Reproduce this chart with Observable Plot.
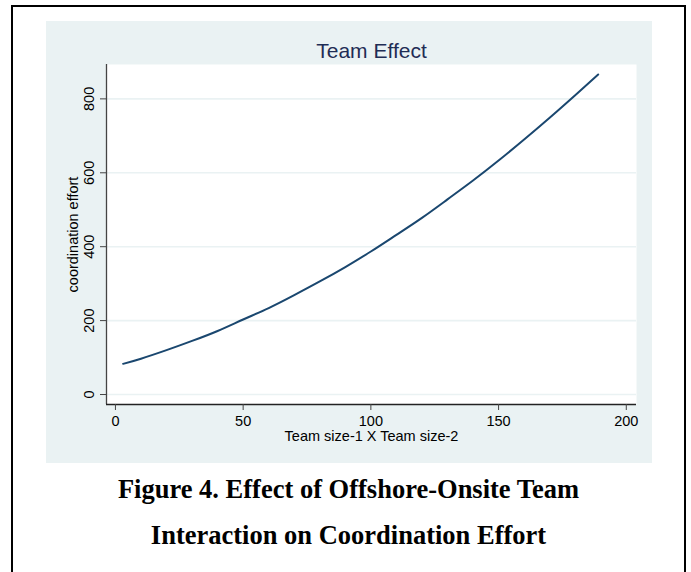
<!DOCTYPE html>
<html>
<head>
<meta charset="utf-8">
<script src="https://cdn.jsdelivr.net/npm/d3@7"></script>
<script src="https://cdn.jsdelivr.net/npm/@observablehq/plot@0.6"></script>
<style>
  html, body { margin: 0; padding: 0; background: #fff; width: 691px; height: 572px; overflow: hidden; }
  #border { position: absolute; left: 11px; top: 5px; width: 671px; height: 620px; border: 2px solid #000; border-bottom: none; }
  #panel { position: absolute; left: 46px; top: 21px; width: 606px; height: 442px; background: #EAF2F3; }
  #caption { position: absolute; left: 13px; top: 466px; width: 671px; text-align: center;
    font-family: "Liberation Serif", "Times New Roman", serif; font-weight: bold; font-size: 26.5px; line-height: 46px; color: #000; }
</style>
</head>
<body>
<div id="border"></div>
<div id="panel"></div>
<div id="caption">Figure 4. Effect of Offshore-Onsite Team<br>Interaction on Coordination Effort</div>
<script>
// Data
const teamProduct = [3, 10, 20, 30, 40, 50, 60, 70, 80, 90, 100, 110, 120, 130, 140, 150, 160, 170, 180, 189];
const coordEffort = [83, 97, 120, 145, 172, 203, 234, 269, 306, 345, 387, 432, 478, 528, 579, 633, 690, 749, 810, 866];
const xTicks = [0, 50, 100, 150, 200];
const yTicks = [0, 200, 400, 600, 800];
const xDomain = [-3.5, 204];
const yDomain = [-27, 893];
const chartTitle = "Team Effect";
const xLabel = "Team size-1 X Team size-2";
const yLabel = "coordination effort";

const data = teamProduct.map((x, i) => ({x, y: coordEffort[i]}));
const font = "'Liberation Sans', Arial, Helvetica, sans-serif";

const chart = Plot.plot({
  width: 606,
  height: 442,
  marginLeft: 60,
  marginRight: 16,
  marginTop: 43,
  marginBottom: 59,
  style: {background: "#EAF2F3", fontFamily: font, overflow: "visible"},
  x: {domain: xDomain, axis: null},
  y: {domain: yDomain, axis: null},
  marks: [
    Plot.frame({fill: "#fff", stroke: "none"}),
    Plot.ruleY(yTicks, {stroke: "#EAF2F3", strokeWidth: 1.6}),
    Plot.line(data, {x: "x", y: "y", stroke: "#1A476F", strokeWidth: 2, curve: "natural"}),
    Plot.ruleX([xDomain[0]], {stroke: "#444", strokeWidth: 1.3}),
    Plot.ruleY([yDomain[0]], {stroke: "#222", strokeWidth: 1.3}),
    Plot.axisY({ticks: yTicks, tickSize: 6, tickFormat: () => "", label: null, stroke: "#444"}),
    Plot.axisX({ticks: xTicks, tickSize: 6, tickFormat: () => "", label: null, stroke: "#444"}),
    Plot.text(yTicks, {y: d => d, frameAnchor: "left", rotate: -90, dx: -17, textAnchor: "middle", lineAnchor: "middle", text: d => String(d), fontSize: 14.5, fill: "#000"}),
    Plot.text(xTicks, {x: d => d, frameAnchor: "bottom", dy: 17, textAnchor: "middle", lineAnchor: "middle", text: d => String(d), fontSize: 14.5, fill: "#000"}),
    Plot.text([xLabel], {frameAnchor: "bottom", dy: 26.5, lineAnchor: "top", textAnchor: "middle", fontSize: 14.5, fill: "#000"}),
    Plot.text([yLabel], {frameAnchor: "left", rotate: -90, dx: -33, textAnchor: "middle", lineAnchor: "middle", fontSize: 14.5, fill: "#000"}),
    Plot.text([chartTitle], {frameAnchor: "top", dy: -7, lineAnchor: "bottom", textAnchor: "middle", fontSize: 21, fill: "#1F2D55"})
  ]
});
document.getElementById("panel").appendChild(chart);
</script>
</body>
</html>
